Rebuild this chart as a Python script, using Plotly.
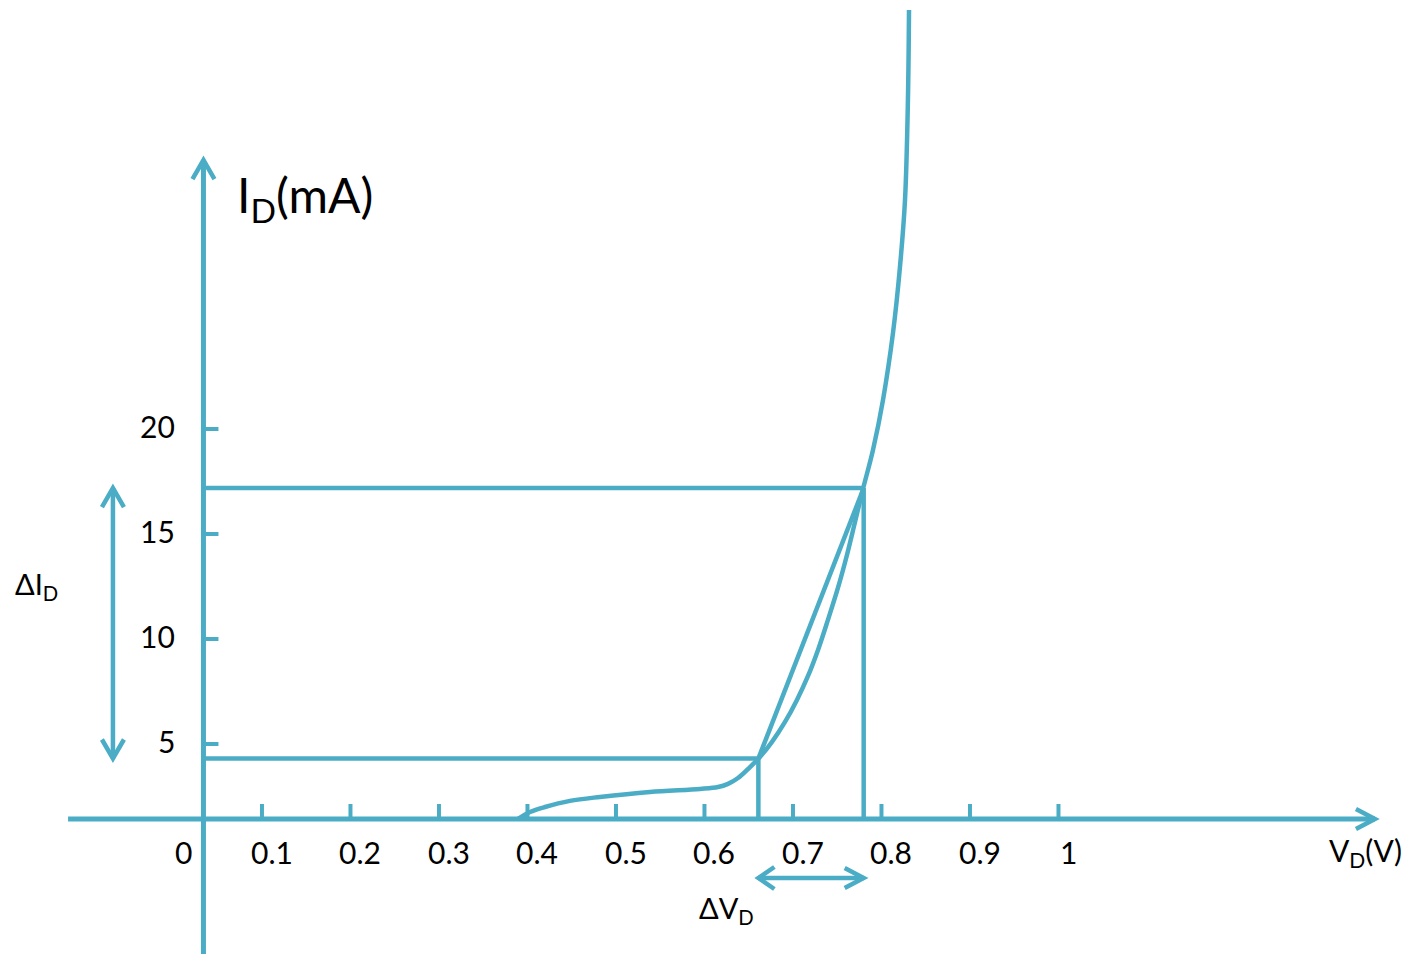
import plotly.graph_objects as go

# ---------------- data ----------------
# diode I-V characteristic (V in volts, I in mA)
curve_v = [0.3554, 0.3689, 0.3859, 0.4141, 0.4480, 0.5045, 0.5610, 0.5814, 0.5927, 0.6040,
           0.6153, 0.6288, 0.6424, 0.6571, 0.6706, 0.6831, 0.6944, 0.7056, 0.7169, 0.7271,
           0.7362, 0.7452, 0.7565, 0.7678, 0.7791, 0.7870, 0.7927, 0.7960, 0.7972]
curve_i = [0.0, 0.33, 0.57, 0.86, 1.05, 1.29, 1.43, 1.52, 1.67, 1.95,
           2.38, 2.95, 3.67, 4.62, 5.67, 6.81, 8.05, 9.48, 11.0, 12.57,
           14.14, 15.71, 17.57, 19.95, 23.14, 26.29, 29.48, 34.24, 38.52]

# two operating points (delta V / delta I)
point_v = [0.627, 0.746]
point_i = [2.88, 15.76]

# axis ticks
x_tick_vals = [0.1, 0.2, 0.3, 0.4, 0.5, 0.6, 0.7, 0.8, 0.9, 1.0]
x_label_vals = [0, 0.1, 0.2, 0.3, 0.4, 0.5, 0.6, 0.7, 0.8, 0.9, 1.0]
x_label_text = ["0", "0.1", "0.2", "0.3", "0.4", "0.5", "0.6", "0.7", "0.8", "0.9", "1"]
y_tick_vals = [5, 10, 15, 20]
y_label_text = ["5", "10", "15", "20"]

# ---------------- style / layout ----------------
COLOR = "#4BACC6"
LW = 4.5
FONT = "Lato, 'Open Sans', sans-serif"
X_RANGE = [-0.2299, 1.3633]
Y_RANGE = [-6.43, 39.0]
X_AXIS_LEFT, X_AXIS_TIP = -0.153, 1.3237
Y_AXIS_TIP = 31.38
DI_ARROW_X = -0.1023
DV_ARROW_Y = -2.81

fig = go.Figure()

# main curve
fig.add_trace(go.Scatter(x=curve_v, y=curve_i, mode="lines",
                         line=dict(color=COLOR, width=LW, shape="spline", smoothing=1.0),
                         hoverinfo="skip", showlegend=False))
# chord between operating points
fig.add_trace(go.Scatter(x=point_v, y=point_i, mode="lines",
                         line=dict(color=COLOR, width=LW),
                         hoverinfo="skip", showlegend=False))

shapes = []


def seg(x0, y0, x1, y1, w=LW):
    shapes.append(dict(type="line", x0=x0, y0=y0, x1=x1, y1=y1,
                       line=dict(color=COLOR, width=w), layer="above"))


def chevron(x, y, direction):
    paths = {
        "up": "M-11,-19 L0,0 L11,-19",
        "down": "M-11,19 L0,0 L11,19",
        "left": "M16,11 L0,0 L16,-11",
        "right": "M-19,10 L0,0 L-19,-10",
    }
    shapes.append(dict(type="path", xsizemode="pixel", ysizemode="pixel",
                       xanchor=x, yanchor=y, path=paths[direction],
                       line=dict(color=COLOR, width=LW)))


# axes
seg(0, Y_RANGE[0], 0, Y_AXIS_TIP, w=5)
chevron(0, Y_AXIS_TIP, "up")
seg(X_AXIS_LEFT, 0, X_AXIS_TIP, 0, w=5)
chevron(X_AXIS_TIP, 0, "right")

# ticks
for v in x_tick_vals:
    shapes.append(dict(type="line", xsizemode="pixel", ysizemode="pixel",
                       xanchor=v, yanchor=0, x0=-30, x1=-30, y0=0, y1=15,
                       line=dict(color=COLOR, width=4)))
for i in y_tick_vals:
    shapes.append(dict(type="line", xsizemode="pixel", ysizemode="pixel",
                       xanchor=0, yanchor=i, x0=0, x1=15, y0=-30, y1=-30,
                       line=dict(color=COLOR, width=4)))

# guide lines
seg(0, point_i[0], point_v[0], point_i[0])
seg(0, point_i[1], point_v[1], point_i[1])
seg(point_v[0], 0, point_v[0], point_i[0])
seg(point_v[1], 0, point_v[1], point_i[1])

# delta I arrow
seg(DI_ARROW_X, point_i[0], DI_ARROW_X, point_i[1])
chevron(DI_ARROW_X, point_i[1], "up")
chevron(DI_ARROW_X, point_i[0], "down")
# delta V arrow
seg(point_v[0], DV_ARROW_Y, point_v[1], DV_ARROW_Y)
chevron(point_v[0], DV_ARROW_Y, "left")
chevron(point_v[1], DV_ARROW_Y, "right")

annotations = []
for v, t in zip(x_label_vals, x_label_text):
    annotations.append(dict(x=v, y=0, text=t, showarrow=False, xanchor="center",
                            yanchor="middle", xshift=-20, yshift=-33,
                            font=dict(size=30, color="black", family=FONT)))
for i, t in zip(y_tick_vals, y_label_text):
    annotations.append(dict(x=0, y=i, text=t, showarrow=False, xanchor="right",
                            yanchor="middle", xshift=-26, yshift=-27,
                            font=dict(size=30, color="black", family=FONT)))

annotations += [
    dict(x=0.036, y=29.57, text="I<sub>D</sub>(mA)", showarrow=False,
         xanchor="left", yanchor="middle", font=dict(size=48, color="black", family=FONT)),
    dict(x=-0.2153, y=11.1, text="ΔI<sub>D</sub>", showarrow=False,
         xanchor="left", yanchor="middle", font=dict(size=29, color="black", family=FONT)),
    dict(x=0.5576, y=-4.33, text="ΔV<sub>D</sub>", showarrow=False,
         xanchor="left", yanchor="middle", font=dict(size=29, color="black", family=FONT)),
    dict(x=1.2695, y=-1.57, text="V<sub>D</sub>(V)", showarrow=False,
         xanchor="left", yanchor="middle", font=dict(size=30, color="black", family=FONT)),
]

fig.update_layout(
    width=1410, height=954, autosize=False,
    margin=dict(l=0, r=0, t=0, b=0),
    paper_bgcolor="white", plot_bgcolor="white",
    xaxis=dict(range=X_RANGE, visible=False, fixedrange=True),
    yaxis=dict(range=Y_RANGE, visible=False, fixedrange=True),
    shapes=shapes, annotations=annotations, showlegend=False,
)

fig.write_html("out.html", config={"displayModeBar": False},
               post_script="document.body.style.margin='0';document.body.style.overflow='hidden';")
